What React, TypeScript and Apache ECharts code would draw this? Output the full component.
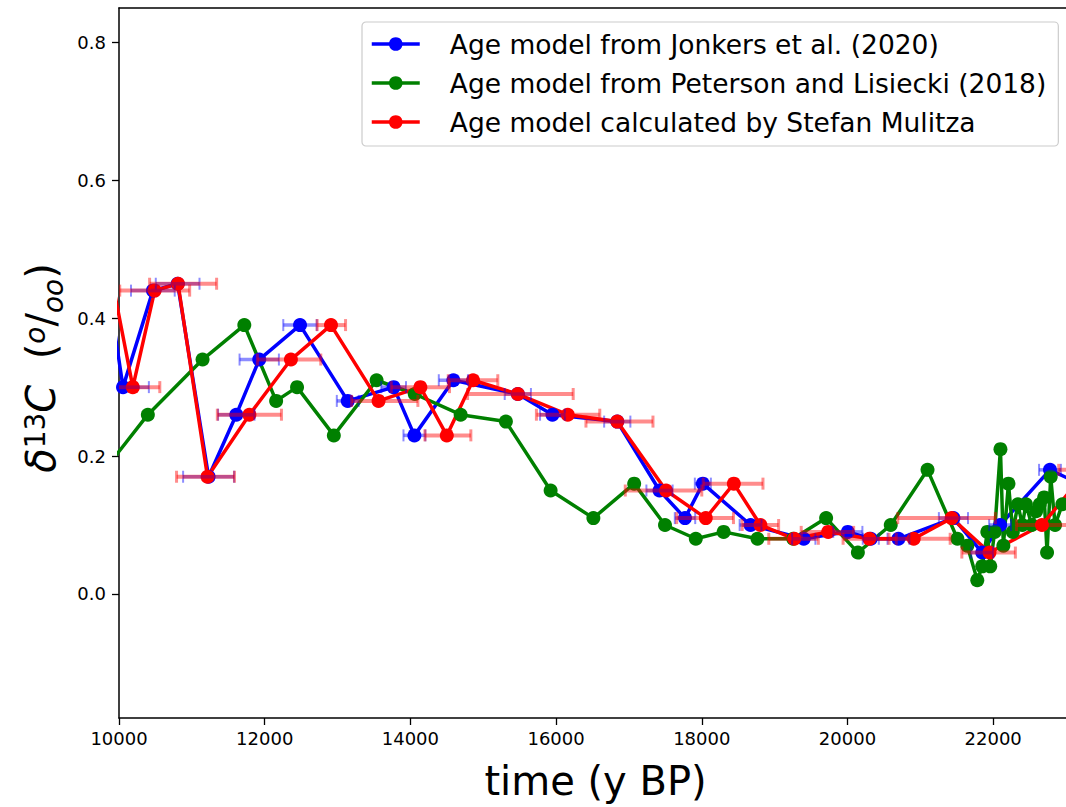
import React, { useEffect, useRef } from "react";
import * as echarts from "echarts";

// Age model from Jonkers et al. (2020)
const jonkersAge = [9800, 10055, 10465, 10805, 11230, 11610, 11925, 12485, 13140, 13770, 14055, 14590, 15475, 15950, 16840, 17420, 17770, 18015, 18670, 19400, 20005, 20320, 20700, 21455, 21850, 22095, 22780, 24800];
const jonkersD13C = [0.48, 0.30, 0.44, 0.45, 0.17, 0.26, 0.34, 0.39, 0.28, 0.30, 0.23, 0.31, 0.29, 0.26, 0.25, 0.15, 0.11, 0.16, 0.10, 0.08, 0.09, 0.08, 0.08, 0.11, 0.06, 0.10, 0.18, 0.08];
const jonkersAgeErr = [100, 355, 300, 300, 350, 250, 270, 230, 150, 170, 150, 200, 180, 170, 180, 180, 140, 110, 150, 160, 200, 110, 150, 200, 150, 150, 150, 150];

// Age model from Peterson and Lisiecki (2018)
const petersonAge = [9727, 10396, 11147, 11720, 12157, 12444, 12949, 13536, 14060, 14690, 15311, 15925, 16512, 17072, 17495, 17918, 18300, 18765, 19255, 19707, 20143, 20594, 21099, 21509, 21645, 21782, 21850, 21920, 21960, 22020, 22100, 22140, 22210, 22270, 22340, 22400, 22450, 22530, 22590, 22640, 22700, 22740, 22790, 22850, 22950];
const petersonD13C = [0.17, 0.26, 0.34, 0.39, 0.28, 0.30, 0.23, 0.31, 0.29, 0.26, 0.25, 0.15, 0.11, 0.16, 0.10, 0.08, 0.09, 0.08, 0.08, 0.11, 0.06, 0.10, 0.18, 0.08, 0.07, 0.02, 0.04, 0.09, 0.04, 0.09, 0.21, 0.07, 0.16, 0.09, 0.13, 0.10, 0.13, 0.10, 0.12, 0.13, 0.14, 0.06, 0.17, 0.10, 0.13];

// Age model calculated by Stefan Mulitza
const mulitzaAge = [9860, 10190, 10490, 10810, 11215, 11790, 12360, 12910, 13563, 14137, 14500, 14860, 15475, 16160, 16840, 17510, 18055, 18440, 18805, 19270, 19735, 20300, 20910, 21430, 21950, 22670, 23300];
const mulitzaD13C = [0.48, 0.30, 0.44, 0.45, 0.17, 0.26, 0.34, 0.39, 0.28, 0.30, 0.23, 0.31, 0.29, 0.26, 0.25, 0.15, 0.11, 0.16, 0.10, 0.08, 0.09, 0.08, 0.08, 0.11, 0.06, 0.10, 0.18];
const mulitzaErrLo = [100, 370, 480, 390, 425, 440, 460, 190, 370, 400, 300, 340, 690, 430, 430, 560, 400, 420, 250, 350, 370, 360, 340, 740, 380, 350, 400];
const mulitzaErrHi = [100, 370, 480, 530, 370, 440, 410, 200, 540, 400, 330, 340, 760, 440, 490, 490, 380, 400, 250, 330, 350, 370, 500, 600, 355, 350, 400];

const xTicks = [10000, 12000, 14000, 16000, 18000, 20000, 22000];
const yTicks = [0.0, 0.2, 0.4, 0.6, 0.8];

const seriesNames = [
  "Age model from Jonkers et al. (2020)",
  "Age model from Peterson and Lisiecki (2018)",
  "Age model calculated by Stefan Mulitza",
];

const FONT = "DejaVu Sans";
const LINE_W = 3.5;

function lineSeries(name: string, xs: number[], ys: number[], color: string) {
  return {
    type: "line",
    name,
    data: xs.map((x, i) => [x, ys[i]]),
    symbol: "circle",
    symbolSize: 14,
    showAllSymbol: true,
    clip: true,
    lineStyle: { color, width: LINE_W },
    itemStyle: { color },
    emphasis: { disabled: true },
  };
}

function errorSeries(name: string, xs: number[], ys: number[], lo: number[], hi: number[], color: string, barWidth: number, capWidth: number) {
  return {
    type: "custom",
    name,
    silent: true,
    clip: true,
    z: 5,
    data: xs.map((x, i) => [x, ys[i], lo[i], hi[i]]),
    encode: { x: 0, y: 1 },
    renderItem: (params: any, api: any) => {
      const x = api.value(0);
      const y = api.value(1);
      const l = api.value(2);
      const h = api.value(3);
      const p0 = api.coord([x - l, y]);
      const p1 = api.coord([x + h, y]);
      return {
        type: "group",
        children: [
          { type: "line", shape: { x1: p0[0], y1: p0[1], x2: p1[0], y2: p1[1] }, style: { stroke: color, lineWidth: barWidth } },
          { type: "line", shape: { x1: p0[0], y1: p0[1] - 6, x2: p0[0], y2: p0[1] + 6 }, style: { stroke: color, lineWidth: capWidth } },
          { type: "line", shape: { x1: p1[0], y1: p1[1] - 6, x2: p1[0], y2: p1[1] + 6 }, style: { stroke: color, lineWidth: capWidth } },
        ],
      };
    },
  };
}

export default function App() {
  const ref = useRef<HTMLDivElement>(null);
  useEffect(() => {
    if (!ref.current) return;
    const chart = echarts.init(ref.current, undefined, { renderer: "svg" });
    const axisLine = { show: true, onZero: false, lineStyle: { color: "#000", width: 1.5 } };
    chart.setOption({
      animation: false,
      backgroundColor: "#fff",
      textStyle: { fontFamily: FONT },
      grid: { left: 119, top: 8, right: -5, bottom: 89, containLabel: false },
      legend: {
        data: seriesNames,
        orient: "vertical",
        left: 362,
        top: 22,
        padding: [8, 12, 10, 8],
        itemWidth: 48,
        itemHeight: 17,
        itemGap: 11,
        backgroundColor: "rgba(255,255,255,0.8)",
        borderColor: "#cccccc",
        borderWidth: 1.2,
        borderRadius: 4,
        selectedMode: false,
        lineStyle: { width: LINE_W },
        textStyle: { fontFamily: FONT, fontSize: 26.5, color: "#000", lineHeight: 28, padding: [0, 0, 0, 25] },
      },
      xAxis: [
        {
          type: "value",
          min: 10000,
          max: 23000,
          axisLine,
          axisTick: { show: true, length: 7, lineStyle: { color: "#000", width: 1.3 }, customValues: xTicks },
          axisLabel: { customValues: xTicks, fontSize: 18, color: "#000", fontFamily: FONT, margin: 11, formatter: (v: number) => String(v) },
          splitLine: { show: false },
          name: "time (y BP)",
          nameLocation: "middle",
          nameGap: 43,
          nameTextStyle: { fontSize: 40, color: "#000", fontFamily: FONT, padding: [0, 0, 0, 6] },
        },
        {
          type: "value",
          position: "top",
          min: 10000,
          max: 23000,
          axisLine,
          axisTick: { show: false },
          axisLabel: { show: false },
          splitLine: { show: false },
        },
      ],
      yAxis: {
        type: "value",
        min: -0.18,
        max: 0.85,
        axisLine,
        axisTick: { show: true, length: 7, lineStyle: { color: "#000", width: 1.3 }, customValues: yTicks },
        axisLabel: { customValues: yTicks, fontSize: 18, color: "#000", fontFamily: FONT, margin: 13, formatter: (v: number) => v.toFixed(1) },
        splitLine: { show: false },
      },
      graphic: [
        {
          type: "text",
          x: 41,
          y: 368,
          rotation: Math.PI / 2,
          style: {
            text: "{i|δ}{sup|13}{i|C}{r|  (}{supi|o}{r|/}{subi|oo}{r|)}",
            align: "center",
            verticalAlign: "middle",
            rich: {
              i: { fontFamily: FONT, fontStyle: "italic", fontSize: 40, lineHeight: 40, verticalAlign: "bottom", fill: "#000" },
              r: { fontFamily: FONT, fontSize: 40, lineHeight: 40, verticalAlign: "bottom", fill: "#000" },
              sup: { fontFamily: FONT, fontSize: 28, lineHeight: 28, verticalAlign: "top", fill: "#000", padding: [0, 0, 4, 0] },
              supi: { fontFamily: FONT, fontStyle: "italic", fontSize: 28, lineHeight: 28, verticalAlign: "top", fill: "#000", padding: [0, 0, 4, 0] },
              subi: { fontFamily: FONT, fontStyle: "italic", fontSize: 28, lineHeight: 28, verticalAlign: "bottom", fill: "#000", padding: [0, 0, -6, 0] },
            },
          },
        },
      ],
      series: [
        lineSeries(seriesNames[0], jonkersAge, jonkersD13C, "#0000ff"),
        lineSeries(seriesNames[1], petersonAge, petersonD13C, "#008000"),
        lineSeries(seriesNames[2], mulitzaAge, mulitzaD13C, "#ff0000"),
        errorSeries("Jonkers age error", jonkersAge, jonkersD13C, jonkersAgeErr, jonkersAgeErr, "rgba(0,0,255,0.45)", 3.5, 2),
        errorSeries("Mulitza age error", mulitzaAge, mulitzaD13C, mulitzaErrLo, mulitzaErrHi, "rgba(255,0,0,0.45)", 4, 3),
      ],
    });
    return () => chart.dispose();
  }, []);
  return <div ref={ref} style={{ position: "absolute", left: 0, top: 0, width: 1066, height: 807 }} />;
}
